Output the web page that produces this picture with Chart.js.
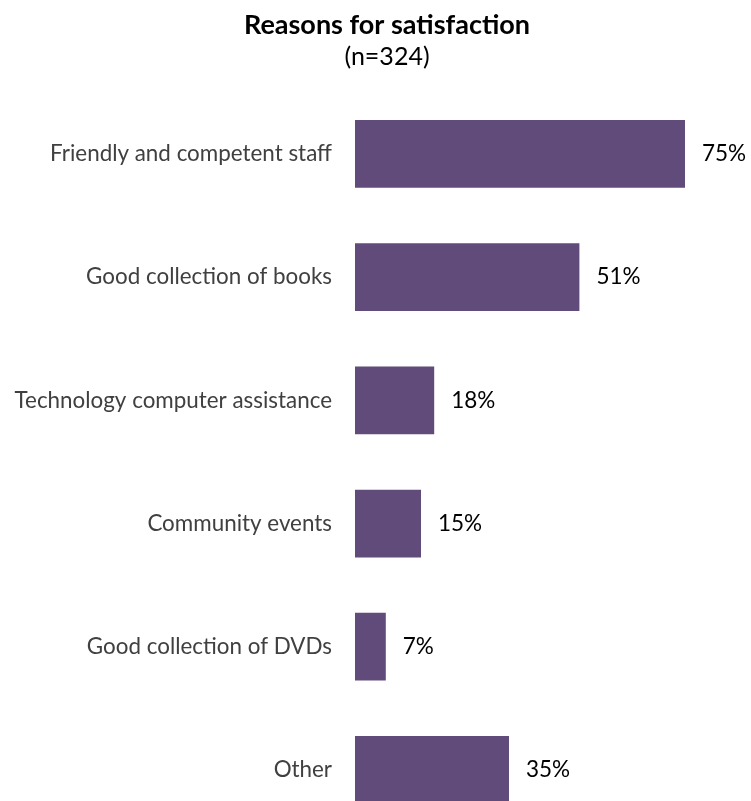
<!DOCTYPE html>
<html>
<head>
<meta charset="utf-8">
<script src="https://cdn.jsdelivr.net/npm/chart.js@4.4.0/dist/chart.umd.min.js"></script>
<style>
  html, body { margin: 0; padding: 0; background: #ffffff; overflow: hidden; }
  canvas { display: block; }
</style>
</head>
<body>
<canvas id="chart" width="751" height="860"></canvas>
<script>
const categories = [
  'Friendly and competent staff',
  'Good collection of books',
  'Technology computer assistance',
  'Community events',
  'Good collection of DVDs',
  'Other'
];
const percentValues = [75, 51, 18, 15, 7, 35];
const titleText = 'Reasons for satisfaction';
const subtitleText = '(n=324)';

const FONT = 'Lato, "Open Sans", sans-serif';

// Writes the percentage just past the end of each bar
const valueLabels = {
  id: 'valueLabels',
  afterDatasetsDraw(chart) {
    const ctx = chart.ctx;
    const meta = chart.getDatasetMeta(0);
    ctx.save();
    ctx.font = '22.5px ' + FONT;
    ctx.fillStyle = '#000000';
    ctx.textAlign = 'left';
    ctx.textBaseline = 'middle';
    meta.data.forEach((bar, i) => {
      ctx.fillText(percentValues[i] + '%', bar.x + 17, bar.y);
    });
    ctx.restore();
  }
};

new Chart(document.getElementById('chart'), {
  type: 'bar',
  data: {
    labels: categories,
    datasets: [{
      data: percentValues,
      backgroundColor: '#614b7a',
      borderWidth: 0,
      categoryPercentage: 1,
      barPercentage: 0.55
    }]
  },
  options: {
    indexAxis: 'y',
    responsive: false,
    animation: false,
    // the negative right padding shifts the centred title block to the right
    layout: { padding: { left: 0, right: -23, top: 0, bottom: 27 } },
    scales: {
      x: { display: false, min: 0, max: 90 },
      y: {
        grid: { display: false },
        border: { display: false },
        afterFit(scale) { scale.width = 355; },
        ticks: {
          padding: 15,
          color: '#404040',
          font: { family: FONT, size: 22.4 }
        }
      }
    },
    plugins: {
      legend: { display: false },
      tooltip: { enabled: false },
      title: {
        display: true,
        text: titleText,
        color: '#000000',
        font: { family: FONT, size: 27, weight: 'bold', lineHeight: 1.2 },
        padding: { top: 8.8, bottom: 0.8 }
      },
      subtitle: {
        display: true,
        text: subtitleText,
        color: '#000000',
        font: { family: FONT, size: 25, lineHeight: 1.2 },
        padding: { top: 0, bottom: 20.25 }
      }
    }
  },
  plugins: [valueLabels]
});
</script>
</body>
</html>
